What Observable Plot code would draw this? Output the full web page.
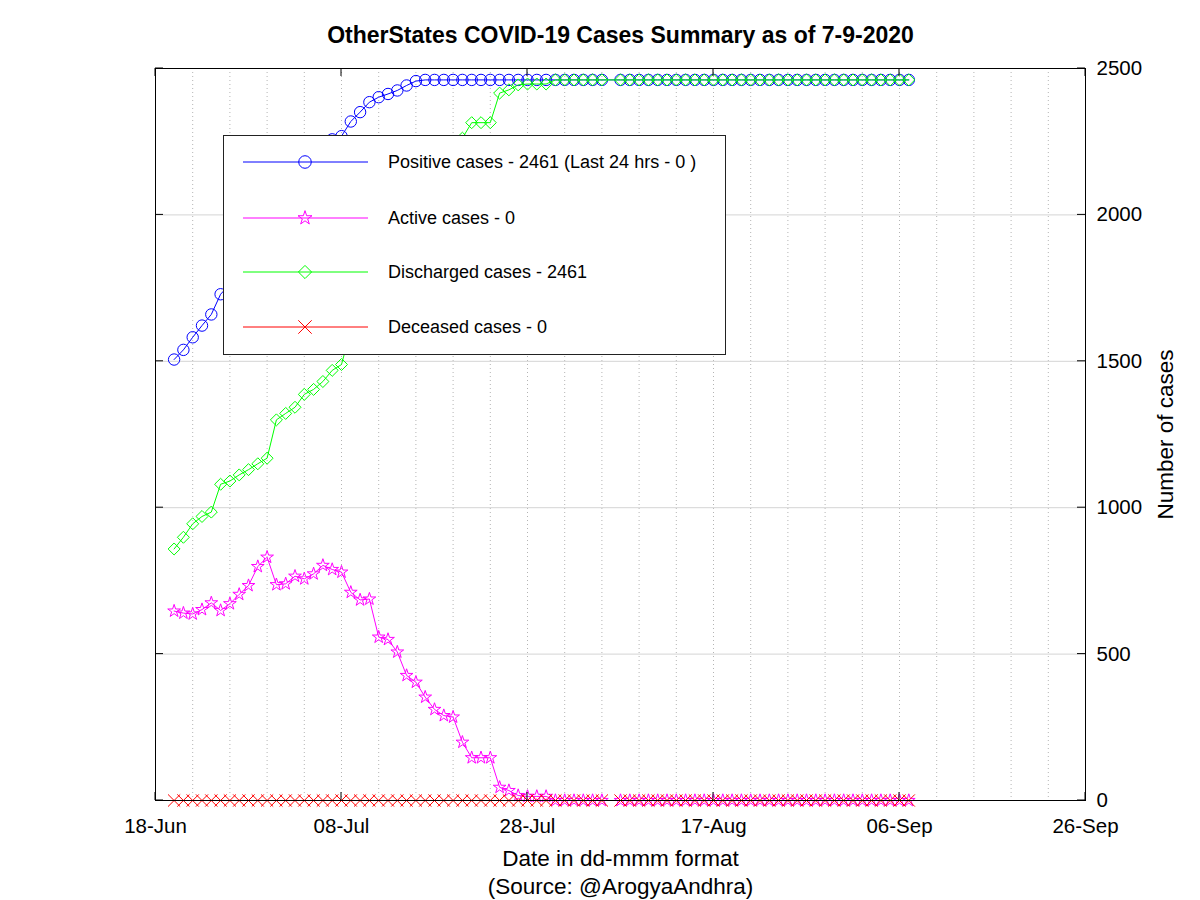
<!DOCTYPE html>
<html>
<head>
<meta charset="utf-8">
<script src="https://cdn.jsdelivr.net/npm/d3@7"></script>
<script src="https://cdn.jsdelivr.net/npm/@observablehq/plot@0.6"></script>
<style>
  body { margin: 0; background: #fff; }
  svg { display: block; }
</style>
</head>
<body>
<div id="chart"></div>
<script>
// ---------- data ----------
const firstDate = "2020-06-20";
const lastDate = "2020-09-07";
const missingDates = ["2020-08-06"];

const positiveHead = [1506, 1539, 1582, 1622, 1660, 1729, 1763, 1816, 1864, 1949, 2000,
  2037, 2062, 2109, 2144, 2178, 2234, 2258, 2269, 2319, 2351, 2385, 2402, 2413, 2425, 2442, 2457];
const positiveFinal = 2461;

const activeHead = [647, 640, 637, 652, 675, 649, 672, 704, 734, 799, 831,
  737, 740, 766, 757, 774, 803, 789, 780, 711, 685, 688, 558, 550, 507, 427, 404, 353, 311, 290,
  285, 199, 146, 146, 146, 45, 34, 17, 14, 14, 14];
const activeFinal = 0;

const dischargedHead = [859, 899, 945, 970, 985, 1080, 1091, 1112, 1130, 1150, 1169,
  1300, 1322, 1343, 1387, 1404, 1431, 1469, 1489,
  1608, 1666, 1697, 1844, 1863, 1918, 2015, 2053, 2108, 2150, 2171, 2176, 2262,
  2315, 2315, 2315, 2416, 2427, 2444, 2447, 2447, 2447];
const dischargedFinal = 2461;

const deceasedHead = [];
const deceasedFinal = 0;

const seriesLabels = [
  "Positive cases - 2461 (Last 24 hrs - 0 )",
  "Active cases - 0",
  "Discharged cases - 2461",
  "Deceased cases - 0"
];
const seriesColors = ["#0000ff", "#ff00ff", "#00ff00", "#ff0000"];
const seriesSymbols = ["circle", "star", "diamond2", "times"];
const seriesRadii = [5.7, 4.0, 5.4, 5.6];

const xDomain = ["2020-06-18", "2020-09-26"];
const xTickLabels = ["2020-06-18", "2020-07-08", "2020-07-28", "2020-08-17", "2020-09-06", "2020-09-26"];
const minorGridStepDays = 4;
const yDomain = [0, 2500];
const yTicks = [0, 500, 1000, 1500, 2000, 2500];

const titleText = "OtherStates COVID-19 Cases Summary as of 7-9-2020";
const xLabelText = "Date in dd-mmm format";
const sourceText = "(Source: @ArogyaAndhra)";
const yLabelText = "Number of cases";

// ---------- build ----------
const parse = d3.utcParse("%Y-%m-%d");
const iso = d3.utcFormat("%Y-%m-%d");
const dates = d3.utcDay.range(parse(firstDate), d3.utcDay.offset(parse(lastDate), 1))
  .filter(d => !missingDates.includes(iso(d)));

function fullSeries(head, finalValue) {
  return dates.map((d, i) => (i < head.length ? head[i] : finalValue));
}
const seriesValues = [
  fullSeries(positiveHead, positiveFinal),
  fullSeries(activeHead, activeFinal),
  fullSeries(dischargedHead, dischargedFinal),
  fullSeries(deceasedHead, deceasedFinal)
];
const seriesRows = seriesValues.map((vals, s) => dates.map((d, i) => ({date: d, value: vals[i], s})));

const xDom = xDomain.map(parse);
const xTickDates = xTickLabels.map(parse);
const minorGrid = d3.utcDay.range(xDom[0], d3.utcDay.offset(xDom[1], 1), minorGridStepDays);

const fontFamily = "'Liberation Sans', Arial, Helvetica, sans-serif";
const tickLen = 8;

function borderTicks(index, scales, values, dims) {
  const g = d3.create("svg:g").attr("stroke", "#000").attr("stroke-width", 1).attr("fill", "none");
  const top = dims.marginTop, bottom = dims.height - dims.marginBottom;
  const left = dims.marginLeft, right = dims.width - dims.marginRight;
  for (const d of xTickDates) {
    const x = scales.x(d);
    g.append("line").attr("x1", x).attr("x2", x).attr("y1", bottom).attr("y2", bottom - tickLen);
    g.append("line").attr("x1", x).attr("x2", x).attr("y1", top).attr("y2", top + tickLen);
  }
  for (const v of yTicks) {
    const y = scales.y(v);
    g.append("line").attr("x1", left).attr("x2", left + tickLen).attr("y1", y).attr("y2", y);
    g.append("line").attr("x1", right).attr("x2", right - tickLen).attr("y1", y).attr("y2", y);
  }
  return g.node();
}

const d3Symbols = {circle: d3.symbolCircle, star: d3.symbolStar, diamond2: d3.symbolDiamond2, times: d3.symbolTimes};

function legendBox(index, scales, values, dims) {
  const g = d3.create("svg:g");
  const x0 = dims.marginLeft + 68, y0 = dims.marginTop + 67;
  const w = 502, h = 219;
  const rowY = [27, 83, 137, 192];
  g.append("rect").attr("x", x0 + 0.5).attr("y", y0 + 0.5).attr("width", w).attr("height", h)
    .attr("fill", "#fff").attr("stroke", "#222").attr("stroke-width", 1);
  seriesLabels.forEach((label, i) => {
    const y = y0 + rowY[i];
    g.append("line").attr("x1", x0 + 20).attr("x2", x0 + 145).attr("y1", y).attr("y2", y)
      .attr("stroke", seriesColors[i]).attr("stroke-width", 1);
    const r = seriesRadii[i] * 1.1;
    g.append("path")
      .attr("d", d3.symbol(d3Symbols[seriesSymbols[i]], r * r * Math.PI)())
      .attr("transform", `translate(${x0 + 82},${y})`)
      .attr("fill", "none").attr("stroke", seriesColors[i]).attr("stroke-width", 1);
    g.append("text").attr("x", x0 + 165).attr("y", y).attr("dy", "0.35em")
      .attr("text-anchor", "start")
      .attr("font-family", fontFamily).attr("font-size", 18).attr("fill", "#000")
      .text(label);
  });
  return g.node();
}

const seriesMarks = seriesRows.flatMap((rows, s) => [
  Plot.line(rows, {x: "date", y: "value", stroke: seriesColors[s], strokeWidth: 1}),
  Plot.dot(rows, {x: "date", y: "value", symbol: seriesSymbols[s], r: seriesRadii[s],
    stroke: seriesColors[s], fill: "none", strokeWidth: 1})
]);

const chart = Plot.plot({
  width: 1200,
  height: 900,
  marginTop: 68,
  marginRight: 115,
  marginBottom: 100,
  marginLeft: 155,
  style: {fontFamily, fontSize: "20.5px", color: "#000", background: "#fff"},
  x: {type: "utc", domain: xDom},
  y: {domain: yDomain},
  marks: [
    Plot.ruleX(minorGrid, {stroke: "#b4b4b4", strokeWidth: 1, strokeDasharray: "1,3"}),
    Plot.ruleY(yTicks.slice(1, -1), {stroke: "#d4d4d4", strokeWidth: 1}),
    ...seriesMarks,
    Plot.frame({stroke: "#000", strokeWidth: 1}),
    borderTicks,
    Plot.axisX({anchor: "bottom", ticks: xTickDates, tickFormat: d3.utcFormat("%d-%b"),
      tickSize: 0, tickPadding: 18, label: null, fontSize: 20.5}),
    Plot.axisY({anchor: "right", ticks: yTicks, tickFormat: d3.format("d"),
      tickSize: 0, tickPadding: 11, label: null, fontSize: 20.5}),
    legendBox,
    Plot.text([titleText], {frameAnchor: "top", dy: -33, lineAnchor: "middle", textAnchor: "middle",
      fontSize: 23, fontWeight: "bold", fill: "#000"}),
    Plot.text([xLabelText], {frameAnchor: "bottom", dy: 58, lineAnchor: "middle", textAnchor: "middle",
      fontSize: 22.5, fill: "#000"}),
    Plot.text([sourceText], {frameAnchor: "bottom", dy: 86, lineAnchor: "middle", textAnchor: "middle",
      fontSize: 22.5, fill: "#000"}),
    Plot.text([yLabelText], {frameAnchor: "right", dx: 80, rotate: -90, lineAnchor: "middle", textAnchor: "middle",
      fontSize: 22.5, fill: "#000"})
  ]
});

document.getElementById("chart").appendChild(chart);
</script>
</body>
</html>
